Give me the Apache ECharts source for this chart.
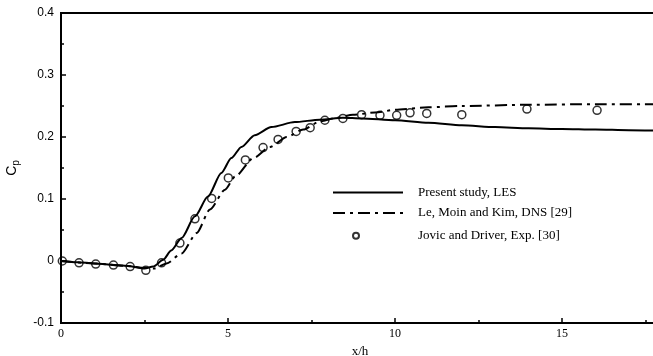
<!DOCTYPE html>
<html>
<head>
<meta charset="utf-8">
<script src="https://cdn.jsdelivr.net/npm/echarts@6/dist/echarts.min.js"></script>
<style>html,body{margin:0;padding:0;background:#fff}#c{width:653px;height:356px}</style>
</head>
<body>
<div id="c"></div>
<script>
// Present study, LES (x/h, Cp)
const lesX = [0, 0.5, 1, 1.5, 2, 2.5, 2.76, 3.06, 3.3, 3.61, 4.01, 4.4, 4.8, 5.1, 5.4, 5.8, 6.3, 7.0, 7.75, 8.44, 9, 10, 11, 12, 13, 14, 15, 16, 17, 18];
const lesY = [0, -0.002, -0.004, -0.006, -0.008, -0.012, -0.009, 0.002, 0.017, 0.037, 0.072, 0.104, 0.142, 0.166, 0.184, 0.203, 0.216, 0.224, 0.228, 0.231, 0.23, 0.227, 0.223, 0.219, 0.216, 0.214, 0.213, 0.212, 0.211, 0.21];
// Le, Moin and Kim, DNS [29]
const dnsX = [0, 1, 2, 2.5, 2.8, 3.16, 3.61, 4.06, 4.46, 4.91, 5.21, 5.76, 6.26, 6.76, 7.25, 7.75, 8.25, 8.74, 9.5, 10, 11, 12, 14, 16, 18];
const dnsY = [0, -0.004, -0.008, -0.011, -0.012, -0.004, 0.012, 0.045, 0.083, 0.115, 0.136, 0.166, 0.184, 0.2, 0.212, 0.225, 0.231, 0.236, 0.24, 0.244, 0.248, 0.25, 0.252, 0.253, 0.253];
// Jovic and Driver, Exp. [30]
const expX = [0.04, 0.54, 1.04, 1.57, 2.07, 2.54, 3.01, 3.56, 4.01, 4.51, 5.01, 5.52, 6.05, 6.5, 7.04, 7.46, 7.9, 8.44, 9.0, 9.55, 10.05, 10.45, 10.95, 12.0, 13.95, 16.05];
const expY = [0.0, -0.003, -0.005, -0.0065, -0.009, -0.015, -0.003, 0.029, 0.068, 0.101, 0.134, 0.163, 0.183, 0.196, 0.209, 0.215, 0.227, 0.23, 0.236, 0.235, 0.235, 0.239, 0.238, 0.236, 0.245, 0.243];
const xTicks = [0, 5, 10, 15];
const yTicks = [-0.1, 0, 0.1, 0.2, 0.3, 0.4];

const zip = (a, b) => a.map((v, i) => [v, b[i]]);
const serif = 'Liberation Serif';
const sans = 'Liberation Sans';

const chart = echarts.init(document.getElementById('c'), null, {renderer: 'canvas'});
chart.setOption({
  animation: false,
  backgroundColor: '#fff',
  grid: {left: 61, width: 668, top: 13, bottom: 33, outerBoundsMode: 'none', containLabel: false, show: true, borderColor: '#000', borderWidth: 2, backgroundColor: 'transparent'},
  legend: [
    {
      data: ['Present study, LES', 'Le, Moin and Kim, DNS [29]'],
      orient: 'vertical', left: 332, top: 185.5, padding: 0,
      itemWidth: 70, itemHeight: 14, itemGap: 6.5,
      itemStyle: {opacity: 0},
      textStyle: {fontFamily: serif, fontSize: 13, color: '#000', padding: [0, 0, 0, 10], lineHeight: 14}
    },
    {
      data: ['Jovic and Driver, Exp. [30]'],
      orient: 'vertical', left: 352, top: 228.7, padding: 0,
      itemWidth: 6, itemHeight: 6,
      textStyle: {fontFamily: serif, fontSize: 13, color: '#000', padding: [0, 0, 0, 54], lineHeight: 14}
    }
  ],
  xAxis: {
    type: 'value', min: 0, max: 20, interval: 5,
    name: 'x/h', nameLocation: 'middle', nameGap: 20,
    nameTextStyle: {fontFamily: serif, fontSize: 13, color: '#000', padding: [0, 70, 0, 0]},
    axisLine: {show: true, onZero: false, lineStyle: {color: '#000', width: 2}},
    axisTick: {show: true, inside: true, length: 5, lineStyle: {color: '#000', width: 1.5}},
    minorTick: {show: true, splitNumber: 2, length: 3, lineStyle: {color: '#000', width: 1.5}},
    splitLine: {show: false},
    axisLabel: {
      color: '#000', fontFamily: serif, fontSize: 12, margin: 5,
      formatter: v => (xTicks.includes(v) ? String(v) : '')
    }
  },
  yAxis: {
    type: 'value', min: -0.1, max: 0.4, interval: 0.1,
    name: '{a|C}{b|p}', nameLocation: 'middle', nameGap: 40,
    nameTextStyle: {rich: {a: {fontFamily: sans, fontSize: 14, color: '#000'}, b: {fontFamily: sans, fontSize: 10, color: '#000', verticalAlign: 'bottom', padding: [8, 0, 0, 0]}}},
    axisLine: {show: true, onZero: false, lineStyle: {color: '#000', width: 2}},
    axisTick: {show: true, inside: true, length: 5, lineStyle: {color: '#000', width: 1.5}},
    minorTick: {show: true, splitNumber: 2, length: 3, lineStyle: {color: '#000', width: 1.5}},
    splitLine: {show: false},
    axisLabel: {
      color: '#000', fontFamily: sans, fontSize: 12, margin: 7,
      formatter: v => {
        const t = yTicks.find(k => Math.abs(k - v) < 1e-9);
        if (t === undefined) return '';
        return Math.abs(t) < 1e-9 ? '0' : t.toFixed(1);
      }
    }
  },
  series: [
    {
      name: 'Present study, LES', type: 'line', data: zip(lesX, lesY),
      symbol: 'none', smooth: 0.25, smoothMonotone: 'x',
      lineStyle: {color: '#000', width: 2}, itemStyle: {color: '#000'}, z: 3
    },
    {
      name: 'Le, Moin and Kim, DNS [29]', type: 'line', data: zip(dnsX, dnsY),
      symbol: 'none', smooth: 0.25, smoothMonotone: 'x',
      lineStyle: {color: '#000', width: 2, type: [12, 5, 3, 5]}, itemStyle: {color: '#000'}, z: 3
    },
    {
      name: 'Jovic and Driver, Exp. [30]', type: 'scatter', data: zip(expX, expY),
      symbol: 'circle', symbolSize: 8,
      itemStyle: {color: 'rgba(255,255,255,0)', borderColor: '#000', borderWidth: 1.5}, z: 4
    }
  ]
});
</script>
</body>
</html>
